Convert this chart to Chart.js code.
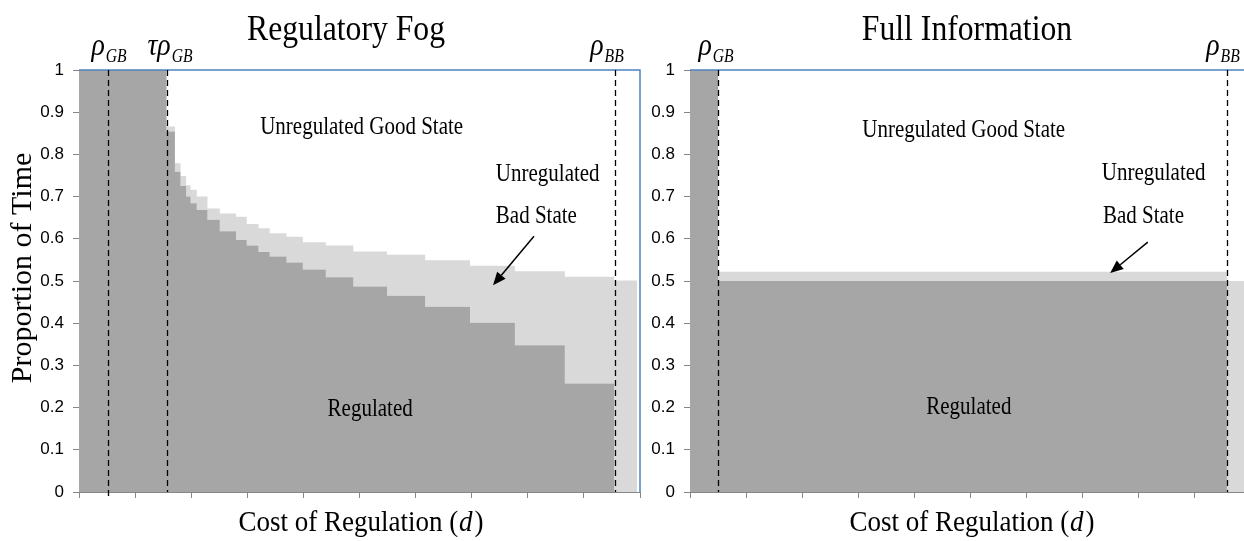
<!DOCTYPE html>
<html><head><meta charset="utf-8">
<script src="https://cdn.jsdelivr.net/npm/chart.js@4/dist/chart.umd.min.js"></script>
<style>
html,body{margin:0;padding:0;background:#fff;overflow:hidden;}
#wrap{position:relative;width:1244px;height:541px;overflow:hidden;background:#fff;}
canvas{position:absolute;top:0;}
</style></head><body>
<div id="wrap">
<canvas id="fog" width="645" height="541" style="left:0"></canvas>
<canvas id="full" width="650" height="541" style="left:611px"></canvas>
</div>
<script>
// ---------------- data ----------------
const yTickLabels = ['0','0.1','0.2','0.3','0.4','0.5','0.6','0.7','0.8','0.9','1'];

// Regulatory Fog: step starts along cost axis (d), share regulated, share unregulated bad state
const fogCost      = [0, 1.56, 1.71, 1.81, 1.91, 1.99, 2.10, 2.29, 2.51, 2.80, 2.99, 3.20, 3.40, 3.70, 3.99, 4.40, 4.89, 5.49, 6.17, 6.97, 7.77, 8.66, 9.54, 9.95];
const fogRegulated = [1, 0.854, 0.759, 0.725, 0.700, 0.684, 0.668, 0.645, 0.618, 0.597, 0.584, 0.569, 0.558, 0.544, 0.527, 0.509, 0.487, 0.465, 0.439, 0.401, 0.348, 0.257, 0, 0];
const fogBadState  = [0, 0.012, 0.020, 0.024, 0.027, 0.032, 0.032, 0.027, 0.042, 0.055, 0.051, 0.056, 0.055, 0.061, 0.065, 0.075, 0.083, 0.097, 0.110, 0.135, 0.175, 0.253, 0.501, 0];
const fogThresholds = [0.51, 1.56, 9.56];   // rho_GB, tau*rho_GB, rho_BB

// Full Information
const fullCost      = [0, 0.50, 9.57, 10];
const fullRegulated = [1, 0.50, 0, 0];
const fullBadState  = [0, 0.022, 0.50, 0.50];
const fullThresholds = [0.50, 9.57];        // rho_GB, rho_BB

// ---------------- helpers ----------------
const SERIF = "'Liberation Serif','Times New Roman',serif";
function txt(ctx, s, x, y, size, align, sx, italic) {
  ctx.save();
  ctx.font = (italic ? 'italic ' : '') + size + 'px ' + SERIF;
  ctx.textBaseline = 'alphabetic';
  ctx.textAlign = 'left';
  ctx.translate(x, y);
  ctx.scale(sx, 1);
  const w = ctx.measureText(s).width;
  let ox = 0;
  if (align === 'center') ox = -w / 2; else if (align === 'right') ox = -w;
  ctx.fillText(s, ox, 0);
  ctx.restore();
  return w * sx;
}
function measure(ctx, s, size, sx, italic) {
  ctx.save();
  ctx.font = (italic ? 'italic ' : '') + size + 'px ' + SERIF;
  const w = ctx.measureText(s).width * sx;
  ctx.restore();
  return w;
}
function arrow(ctx, x1, y1, x2, y2) {
  const ang = Math.atan2(y2 - y1, x2 - x1), L = 13, W = 5.5;
  const bx = x2 - L * Math.cos(ang), by = y2 - L * Math.sin(ang);
  ctx.beginPath(); ctx.moveTo(x1, y1); ctx.lineTo(bx, by); ctx.stroke();
  ctx.beginPath(); ctx.moveTo(x2, y2);
  ctx.lineTo(bx + W * Math.sin(ang), by - W * Math.cos(ang));
  ctx.lineTo(bx - W * Math.sin(ang), by + W * Math.cos(ang));
  ctx.closePath(); ctx.fill();
}

const overlay = {
  id: 'overlay',
  afterDatasetsDraw(chart, args, o) {
    const { ctx, chartArea: a } = chart;
    ctx.save();
    ctx.strokeStyle = '#4f81bd'; ctx.lineWidth = 1.5;
    ctx.beginPath(); ctx.moveTo(a.left, a.top); ctx.lineTo(a.right, a.top); ctx.lineTo(a.right, a.bottom); ctx.stroke();
    ctx.restore();
  },
  afterDraw(chart, args, o) {
    const { ctx, chartArea: a, scales: { x, y } } = chart;
    ctx.save();
    ctx.fillStyle = '#000';
    // dashed threshold lines + labels
    o.marks.forEach(m => {
      const px = Math.round(x.getPixelForValue(m.v)) + 0.5;
      ctx.save();
      ctx.setLineDash([6, 4]); ctx.strokeStyle = '#000'; ctx.lineWidth = 1.3;
      ctx.beginPath(); ctx.moveTo(px, a.top); ctx.lineTo(px, a.bottom + (m.ext || 0)); ctx.stroke();
      ctx.restore();
      const w1 = measure(ctx, m.main, 32, 0.87, true), w2 = measure(ctx, m.sub, 18, 0.87, true);
      const sx0 = px + (m.dx || 0) - (w1 + w2) / 2;
      txt(ctx, m.main, sx0, 55, 32, 'left', 0.87, true);
      txt(ctx, m.sub, sx0 + w1 + 1, 62, 18, 'left', 0.87, true);
    });
    // title
    txt(ctx, o.title, o.titleCx, 40, 36, 'center', 0.88, false);
    // x axis title with italic d
    const parts = ['Cost of Regulation (', 'd', ')'];
    const ws = [measure(ctx, parts[0], 30, 0.9, false), measure(ctx, parts[1], 30, 0.9, true), measure(ctx, parts[2], 30, 0.9, false)];
    let xx = o.xTitleCx - (ws[0] + ws[1] + ws[2] + 3) / 2;
    txt(ctx, parts[0], xx, 531, 30, 'left', 0.9, false); xx += ws[0] + 1;
    txt(ctx, parts[1], xx, 531, 30, 'left', 0.9, true); xx += ws[1] + 2;
    txt(ctx, parts[2], xx, 531, 30, 'left', 0.9, false);
    // y axis title
    if (o.yTitle) {
      ctx.save();
      ctx.translate(o.yTitle.x, o.yTitle.y);
      ctx.rotate(-Math.PI / 2);
      ctx.font = '30px ' + SERIF; ctx.textAlign = 'center'; ctx.textBaseline = 'middle';
      ctx.fillText(o.yTitle.text, 0, 0);
      ctx.restore();
    }
    // region notes
    o.notes.forEach(n => {
      txt(ctx, n.text, x.getPixelForValue(n.x), y.getPixelForValue(n.y), 25, n.align, 0.84, false);
    });
    // arrow
    ctx.strokeStyle = '#000'; ctx.lineWidth = 1.5;
    arrow(ctx, x.getPixelForValue(o.arrow[0]), y.getPixelForValue(o.arrow[1]),
               x.getPixelForValue(o.arrow[2]), y.getPixelForValue(o.arrow[3]));
    ctx.restore();
  }
};

function pts(xs, ys) { return xs.map((v, i) => ({ x: v, y: ys[i] })); }

function makeChart(id, cost, reg, bad, ov, padRight, tickPad) {
  return new Chart(document.getElementById(id), {
    type: 'line',
    data: {
      datasets: [
        { label: 'Regulated', data: pts(cost, reg), stepped: true, fill: 'origin',
          backgroundColor: '#a6a6a6', borderColor: 'rgba(0,0,0,0)', borderWidth: 0, pointRadius: 0 },
        { label: 'Unregulated Bad State', data: pts(cost, bad), stepped: true, fill: '-1',
          backgroundColor: '#d9d9d9', borderColor: 'rgba(0,0,0,0)', borderWidth: 0, pointRadius: 0 }
      ]
    },
    options: {
      responsive: false, animation: false, devicePixelRatio: 1,
      layout: { padding: { left: 0, top: 70, right: padRight, bottom: 0 } },
      plugins: { legend: { display: false }, tooltip: { enabled: false }, overlay: ov },
      scales: {
        x: {
          type: 'linear', min: 0, max: 10, z: 1,
          ticks: { display: false, stepSize: 1 },
          grid: { drawOnChartArea: false, drawTicks: true, tickLength: 6, color: '#868686', lineWidth: 1 },
          border: { color: '#868686', width: 1 },
          afterFit: s => { s.height = 49; }
        },
        y: {
          type: 'linear', min: 0, max: 1, stacked: true, z: 1,
          ticks: { stepSize: 0.1, padding: tickPad, color: '#000',
                   font: { family: "'Liberation Sans Narrow','Arial Narrow','Liberation Sans',sans-serif", size: 17 },
                   callback: (v, i) => yTickLabels[i] },
          grid: { drawOnChartArea: false, drawTicks: true, tickLength: 6, color: '#868686', lineWidth: 1 },
          border: { color: '#868686', width: 1 },
          afterFit: s => { s.width = 79; }
        }
      }
    },
    plugins: [overlay]
  });
}

makeChart('fog', fogCost, fogRegulated, fogBadState, {
  title: 'Regulatory Fog', titleCx: 346, xTitleCx: 361,
  yTitle: { text: 'Proportion of Time', x: 23, y: 268 },
  marks: [
    { v: fogThresholds[0], main: 'ρ', sub: 'GB', dx: 0, ext: 4 },
    { v: fogThresholds[1], main: 'τρ', sub: 'GB', dx: 2 },
    { v: fogThresholds[2], main: 'ρ', sub: 'BB', dx: -9 }
  ],
  notes: [
    { text: 'Unregulated Good State', x: 3.23, y: 0.848, align: 'left' },
    { text: 'Unregulated', x: 7.43, y: 0.737, align: 'left' },
    { text: 'Bad State', x: 7.43, y: 0.637, align: 'left' },
    { text: 'Regulated', x: 5.19, y: 0.181, align: 'center' }
  ],
  arrow: [8.11, 0.606, 7.38, 0.49]
}, 5, 9);

makeChart('full', fullCost, fullRegulated, fullBadState, {
  title: 'Full Information', titleCx: 356, xTitleCx: 361,
  marks: [
    { v: fullThresholds[0], main: 'ρ', sub: 'GB', dx: -3 },
    { v: fullThresholds[1], main: 'ρ', sub: 'BB', dx: -5 }
  ],
  notes: [
    { text: 'Unregulated Good State', x: 3.07, y: 0.841, align: 'left' },
    { text: 'Unregulated', x: 7.34, y: 0.739, align: 'left' },
    { text: 'Bad State', x: 7.36, y: 0.637, align: 'left' },
    { text: 'Regulated', x: 4.97, y: 0.186, align: 'center' }
  ],
  arrow: [8.16, 0.592, 7.49, 0.519]
}, 10, 9);
</script>
</body></html>
